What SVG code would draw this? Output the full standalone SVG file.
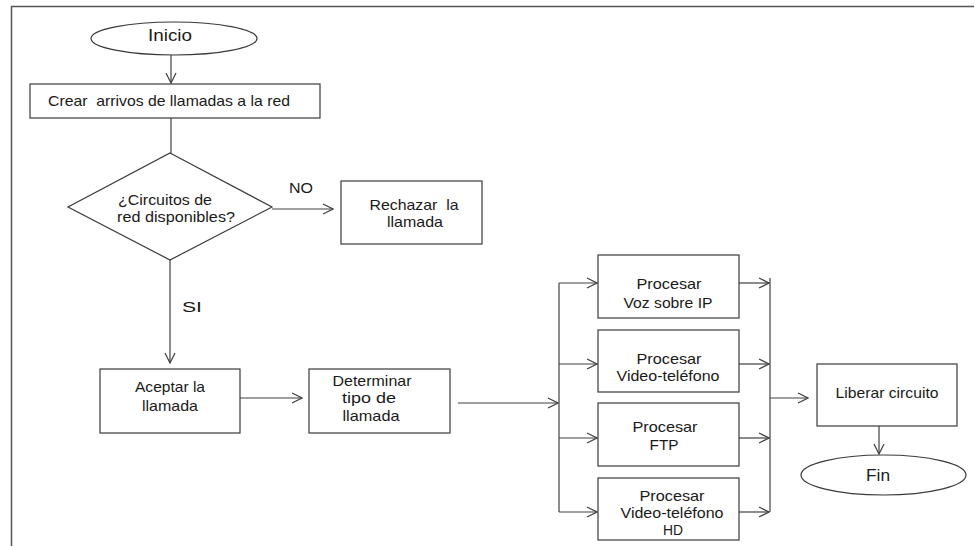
<svg xmlns="http://www.w3.org/2000/svg" width="975" height="546" viewBox="0 0 975 546">
<style>
.s{fill:#fff;stroke:#3a3a3a;stroke-width:1.2}
.c{fill:none;stroke:#404040;stroke-width:1.2}
.t{font-family:"Liberation Sans",Arial,sans-serif;font-size:14.5px;fill:#1a1a1a;text-anchor:middle}
.b{font-size:16px}
.l{text-anchor:start}
</style>
<defs>
<marker id="a" viewBox="0 0 12 12" refX="11" refY="6" markerWidth="12" markerHeight="12" markerUnits="userSpaceOnUse" orient="auto">
<path d="M1,1 L11,6 L1,11" fill="none" stroke="#404040" stroke-width="1.2"/>
</marker>
</defs>
<rect width="975" height="546" fill="#fff"/>
<path d="M11.5,546 V6.5 H974" fill="none" stroke="#555" stroke-width="1.5"/>
<g id="connectors">
<line class="c" x1="171" y1="55" x2="171" y2="83" marker-end="url(#a)"/>
<line class="c" x1="171" y1="118" x2="171" y2="153"/>
<line class="c" x1="272" y1="209" x2="333" y2="209" marker-end="url(#a)"/>
<line class="c" x1="170" y1="260" x2="170" y2="363" marker-end="url(#a)"/>
<line class="c" x1="240" y1="398" x2="302" y2="398" marker-end="url(#a)"/>
<line class="c" x1="458" y1="403" x2="558" y2="403" marker-end="url(#a)"/>
<line class="c" x1="559" y1="283" x2="559" y2="512"/>
<line class="c" x1="559" y1="283" x2="597" y2="283" marker-end="url(#a)"/>
<line class="c" x1="559" y1="364" x2="597" y2="364" marker-end="url(#a)"/>
<line class="c" x1="559" y1="438" x2="597" y2="438" marker-end="url(#a)"/>
<line class="c" x1="559" y1="512" x2="597" y2="512" marker-end="url(#a)"/>
<line class="c" x1="739" y1="283" x2="769" y2="283" marker-end="url(#a)"/>
<line class="c" x1="739" y1="364" x2="769" y2="364" marker-end="url(#a)"/>
<line class="c" x1="739" y1="438" x2="769" y2="438" marker-end="url(#a)"/>
<line class="c" x1="739" y1="512" x2="769" y2="512" marker-end="url(#a)"/>
<line class="c" x1="770" y1="278" x2="770" y2="512"/>
<line class="c" x1="770" y1="398" x2="808" y2="398" marker-end="url(#a)"/>
<line class="c" x1="879" y1="426" x2="879" y2="454" marker-end="url(#a)"/>
<text class="t" x="301" y="193" textLength="24" lengthAdjust="spacingAndGlyphs">NO</text>
<text class="t" x="192" y="312" textLength="20" lengthAdjust="spacingAndGlyphs">SI</text>
</g>
<g id="inicio">
<ellipse class="s" cx="174" cy="38.5" rx="83" ry="16.5"/>
<text class="t b" x="170" y="41" textLength="44" lengthAdjust="spacingAndGlyphs">Inicio</text>
</g>
<g id="crear">
<rect class="s" x="30" y="84" width="290" height="34"/>
<text class="t" x="169" y="106" xml:space="preserve" textLength="242" lengthAdjust="spacingAndGlyphs">Crear  arrivos de llamadas a la red</text>
</g>
<g id="decision">
<polygon class="s" points="170,153 272,207 170,260 68,207"/>
<text class="t l" x="118" y="205" textLength="94" lengthAdjust="spacingAndGlyphs">¿Circuitos de</text>
<text class="t l" x="117" y="222" textLength="118" lengthAdjust="spacingAndGlyphs">red disponibles?</text>
</g>
<g id="rechazar">
<rect class="s" x="341" y="181" width="141" height="63"/>
<text class="t" x="414" y="210" xml:space="preserve" textLength="89" lengthAdjust="spacingAndGlyphs">Rechazar  la</text>
<text class="t" x="415" y="227" textLength="56" lengthAdjust="spacingAndGlyphs">llamada</text>
</g>
<g id="aceptar">
<rect class="s" x="100" y="369" width="140" height="64"/>
<text class="t" x="170" y="392" textLength="70" lengthAdjust="spacingAndGlyphs">Aceptar la</text>
<text class="t" x="170" y="411" textLength="56" lengthAdjust="spacingAndGlyphs">llamada</text>
</g>
<g id="determinar">
<rect class="s" x="309" y="369" width="141" height="64"/>
<text class="t" x="372" y="386" textLength="79" lengthAdjust="spacingAndGlyphs">Determinar</text>
<text class="t" x="369" y="403" textLength="54" lengthAdjust="spacingAndGlyphs">tipo de</text>
<text class="t" x="371" y="421" textLength="57" lengthAdjust="spacingAndGlyphs">llamada</text>
</g>
<g id="voip">
<rect class="s" x="598" y="255" width="141" height="63"/>
<text class="t" x="669" y="289" textLength="65" lengthAdjust="spacingAndGlyphs">Procesar</text>
<text class="t" x="668" y="308" textLength="89" lengthAdjust="spacingAndGlyphs">Voz sobre IP</text>
</g>
<g id="video">
<rect class="s" x="598" y="330" width="141" height="62"/>
<text class="t" x="669" y="364" textLength="65" lengthAdjust="spacingAndGlyphs">Procesar</text>
<text class="t" x="668" y="381" textLength="103" lengthAdjust="spacingAndGlyphs">Video-teléfono</text>
</g>
<g id="ftp">
<rect class="s" x="598" y="403" width="141" height="63"/>
<text class="t" x="665" y="432" textLength="65" lengthAdjust="spacingAndGlyphs">Procesar</text>
<text class="t" x="664" y="450" textLength="29" lengthAdjust="spacingAndGlyphs">FTP</text>
</g>
<g id="videohd">
<rect class="s" x="598" y="478" width="141" height="62"/>
<text class="t" x="672" y="501" textLength="65" lengthAdjust="spacingAndGlyphs">Procesar</text>
<text class="t" x="672" y="518" textLength="103" lengthAdjust="spacingAndGlyphs">Video-teléfono</text>
<text class="t" x="673" y="535" textLength="20" lengthAdjust="spacingAndGlyphs">HD</text>
</g>
<g id="liberar">
<rect class="s" x="817" y="364" width="140" height="62"/>
<text class="t" x="887" y="398" textLength="103" lengthAdjust="spacingAndGlyphs">Liberar circuito</text>
</g>
<g id="fin">
<ellipse class="s" cx="883.5" cy="475" rx="82.5" ry="20"/>
<text class="t b" x="878" y="481" textLength="24" lengthAdjust="spacingAndGlyphs">Fin</text>
</g>
</svg>
